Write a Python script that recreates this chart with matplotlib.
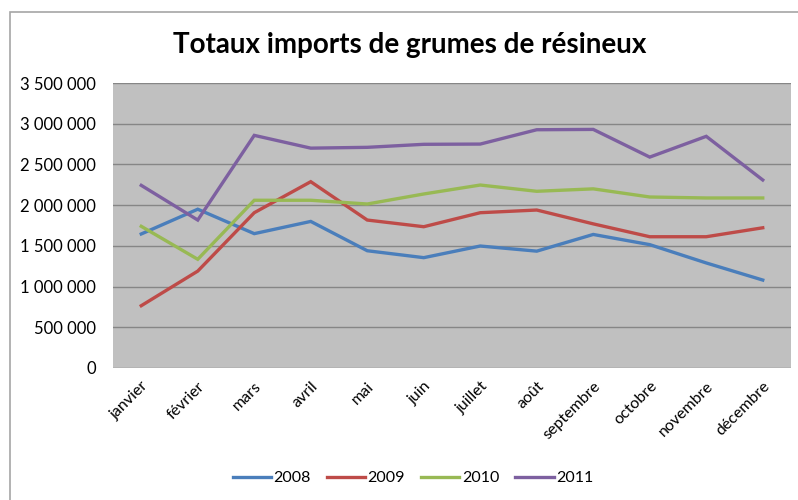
import matplotlib.pyplot as plt
from matplotlib.patches import Rectangle
from matplotlib.ticker import FuncFormatter
import numpy as np

plt.rcParams['font.family'] = ['Lato', 'DejaVu Sans']

mois = ['janvier', 'février', 'mars', 'avril', 'mai', 'juin', 'juillet',
        'août', 'septembre', 'octobre', 'novembre', 'décembre']

v2008 = [1646000, 1950000, 1650000, 1800000, 1440000, 1355000, 1498000,
         1435000, 1640000, 1515000, 1290000, 1080000]
v2009 = [765000, 1190000, 1907000, 2288000, 1817000, 1735000, 1907000,
         1940000, 1770000, 1612000, 1612000, 1722000]
v2010 = [1740000, 1335000, 2060000, 2060000, 2014000, 2137000, 2247000,
         2170000, 2200000, 2100000, 2088000, 2088000]
v2011 = [2243000, 1817000, 2857000, 2700000, 2710000, 2747000, 2750000,
         2926000, 2930000, 2590000, 2845000, 2309000]

series = [('2008', v2008, '#4a7ebb'), ('2009', v2009, '#be4b48'),
          ('2010', v2010, '#98b954'), ('2011', v2011, '#7d60a0')]

fig = plt.figure(figsize=(7.98, 5.0), dpi=100)
ax = fig.add_axes([113/798, 1-368/500, (791-113)/798, (368-83)/500])

# cadre du graphique
fig.patches.append(Rectangle((10/798, -0.1), 1.1, 1-12/500+0.1, transform=fig.transFigure,
                             fill=False, edgecolor='#a6a6a6', linewidth=1.2))

x = np.arange(len(mois))
for nom, vals, col in series:
    ax.plot(x, vals, color=col, linewidth=2.4, label=nom, solid_joinstyle='miter')

ax.set_facecolor('#c0c0c0')
ax.set_xlim(-0.5, 11.5)
ax.set_ylim(0, 3500000)
ax.set_yticks(np.arange(0, 3500001, 500000))
ax.yaxis.set_major_formatter(FuncFormatter(lambda v, p: f'{int(v):,}'.replace(',', ' ')))
ax.grid(axis='y', color='#868686', linewidth=1.0)
ax.set_axisbelow(True)
for s in ax.spines.values():
    s.set_visible(False)
ax.tick_params(axis='y', length=0, labelsize=12, pad=12)
ax.set_xticks(x)
ax.set_xticklabels(mois, rotation=45, ha='right', rotation_mode='anchor')
ax.tick_params(axis='x', length=0, labelsize=11.5, pad=8)

fig.text(410/798, 1-45/500, 'Totaux imports de grumes de résineux', ha='center', va='center',
         fontsize=20, fontweight='bold')

fig.legend(loc='center', bbox_to_anchor=(413/798, 1-478/500), ncol=4, frameon=False,
           fontsize=11.5, handlelength=2.4, handletextpad=0.15, columnspacing=1.0)

fig.savefig('out.png', dpi=100)
